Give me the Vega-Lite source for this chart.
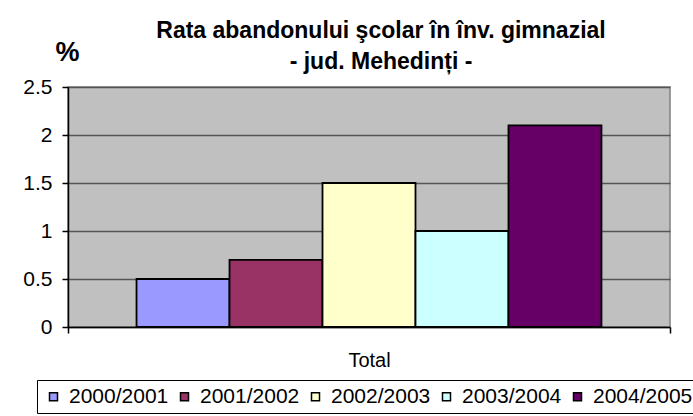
{
  "$schema": "https://vega.github.io/schema/vega-lite/v6.json",
  "autosize": "none",
  "width": 602,
  "height": 240,
  "padding": {"left": 68, "top": 87, "right": 23, "bottom": 89},
  "background": "white",
  "config": {
    "font": "Liberation Sans",
    "view": {"fill": "#C0C0C0", "stroke": "#808080", "strokeWidth": 1.5}
  },
  "title": {
    "text": ["Rata abandonului şcolar în înv. gimnazial", "- jud. Mehedinți -"],
    "fontSize": 23,
    "fontWeight": "bold",
    "color": "black",
    "anchor": "middle",
    "frame": "group",
    "lineHeight": 31,
    "offset": 0,
    "dx": 12,
    "dy": 36
  },
  "data": {
    "values": [
      {"cat": "Total", "year": "2000/2001", "value": 0.5},
      {"cat": "Total", "year": "2001/2002", "value": 0.7},
      {"cat": "Total", "year": "2002/2003", "value": 1.5},
      {"cat": "Total", "year": "2003/2004", "value": 1.0},
      {"cat": "Total", "year": "2004/2005", "value": 2.1}
    ]
  },
  "mark": {"type": "bar", "stroke": "black", "strokeWidth": 1.8},
  "encoding": {
    "x": {
      "field": "cat",
      "type": "nominal",
      "scale": {"paddingInner": 0, "paddingOuter": 0},
      "axis": {
        "title": null,
        "labelAngle": 0,
        "labelFontSize": 20,
        "labelColor": "black",
        "labelPadding": 17,
        "domainColor": "black",
        "domainWidth": 1.5,
        "tickColor": "black",
        "tickWidth": 1.5,
        "tickBand": "extent",
        "tickSize": 6,
        "grid": false
      }
    },
    "xOffset": {
      "field": "year",
      "type": "nominal",
      "scale": {"paddingInner": 0, "paddingOuter": 0.737, "align": 0.5}
    },
    "y": {
      "field": "value",
      "type": "quantitative",
      "scale": {"domain": [0, 2.5], "nice": false},
      "axis": {
        "values": [0, 0.5, 1, 1.5, 2, 2.5],
        "format": "~g",
        "title": "%",
        "titleAngle": 0,
        "titleFontSize": 27,
        "titleFontWeight": "bold",
        "titleColor": "black",
        "titleAlign": "center",
        "titleBaseline": "alphabetic",
        "titleX": -1,
        "titleY": -27,
        "labelFontSize": 21,
        "labelColor": "black",
        "labelPadding": 10,
        "domainColor": "black",
        "domainWidth": 1.5,
        "tickColor": "black",
        "tickWidth": 1.5,
        "tickSize": 6,
        "gridColor": "#555555",
        "gridWidth": 1.5,
        "gridOpacity": 1
      }
    },
    "color": {
      "field": "year",
      "type": "nominal",
      "scale": {"range": ["#9999FF", "#993366", "#FFFFCC", "#CCFFFF", "#660066"]},
      "legend": {
        "title": null,
        "orient": "none",
        "direction": "horizontal",
        "legendX": -31,
        "legendY": 293,
        "strokeColor": "black",
        "padding": 6,
        "symbolType": "square",
        "symbolSize": 64,
        "symbolStrokeColor": "black",
        "symbolStrokeWidth": 1.5,
        "symbolOpacity": 1,
        "labelFontSize": 21,
        "labelColor": "black",
        "labelOffset": 5,
        "columnPadding": 5
      }
    }
  }
}
